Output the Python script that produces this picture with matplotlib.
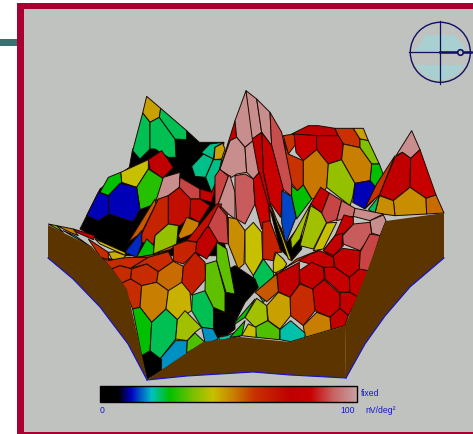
import numpy as np
import matplotlib
matplotlib.use("Agg")
import matplotlib.pyplot as plt
from matplotlib.colors import LinearSegmentedColormap
from matplotlib.patches import Polygon, Circle, Rectangle

plt.rcParams['font.family'] = ['Liberation Sans', 'DejaVu Sans']

# response scale, value (0-100) against colour
scale_values = [0, 7, 12, 16, 20, 27, 36, 44, 52, 60, 74, 82, 91, 100]
scale_colors = ["#000000", "#000000", "#0000c0", "#0060c8", "#00c0c0", "#00c000", "#78c000",
                "#c8c000", "#c88000", "#c83200", "#c00000", "#c80000", "#c86464", "#c8a0a0"]

# each patch: origin in pixels, then cell outlines in 3x units from that origin, then cell values
back_origin = (220, 90)
back_values = [60, 74, 60, 82, 74, 48, 60, 53, 37, 27, 39, 52, 12, 97, 74, 82, 50, 50, 54, 60, 24]
back_cells = [
    [(190, 140), (222, 135), (228, 165), (205, 195)],
    [(215, 135), (265, 110), (295, 110), (345, 118), (355, 140), (290, 140), (222, 135)],
    [(345, 118), (400, 118), (420, 150), (420, 176), (370, 165), (355, 140)],
    [(222, 135), (290, 140), (290, 182), (250, 215), (228, 190)],
    [(290, 140), (355, 140), (370, 165), (365, 212), (325, 225), (290, 182)],
    [(400, 118), (430, 118), (445, 155), (420, 150)],
    [(190, 150), (205, 195), (250, 215), (250, 288), (232, 305), (212, 280)],
    [(250, 215), (290, 182), (325, 225), (320, 295), (300, 325), (275, 330), (250, 288)],
    [(420, 150), (445, 155), (478, 225), (455, 225), (420, 176)],
    [(455, 225), (478, 225), (492, 262), (470, 298), (450, 275)],
    [(325, 225), (365, 212), (405, 283), (398, 325), (390, 350), (320, 295)],
    [(370, 165), (420, 176), (455, 225), (450, 275), (405, 283), (365, 212)],
    [(405, 283), (450, 275), (470, 298), (460, 335), (435, 360), (398, 340)],
    [(575, 125), (600, 182), (572, 208), (547, 190), (528, 200)],
    [(525, 205), (547, 190), (572, 208), (570, 295), (520, 335), (478, 318)],
    [(572, 208), (600, 182), (648, 318), (618, 328), (570, 295)],
    [(520, 335), (570, 295), (618, 328), (620, 375), (525, 380)],
    [(478, 320), (520, 335), (525, 380), (465, 372)],
    [(618, 328), (648, 318), (672, 372), (620, 375)],
    [(525, 200), (478, 318), (436, 355), (470, 285)],
    [(478, 320), (465, 372), (445, 362)],
]

left_origin = (40, 90)
left_values = [3, 48, 24, 24, 24, 22, 48, 22, 22,
               44, 74, 30, 27, 12, 12, 97, 88, 75,
               56, 64, 70, 72, 52, 14, 27, 39, 56]
left_cells = [
    [(268, 235), (278, 180), (440, 125), (478, 160), (552, 160), (530, 320), (560, 500), (255, 500), (120, 420), (180, 300)],
    [(320, 22), (362, 58), (358, 85), (330, 100), (308, 72)],
    [(308, 72), (330, 100), (330, 180), (300, 210), (278, 185)],
    [(330, 100), (358, 85), (405, 150), (408, 205), (385, 205), (345, 180), (330, 180)],
    [(362, 58), (440, 125), (440, 152), (405, 150), (358, 85)],
    [(485, 190), (510, 165), (550, 160), (525, 175), (520, 210), (490, 195)],
    [(525, 175), (548, 163), (555, 180), (545, 210), (522, 212)],
    [(455, 232), (490, 195), (520, 210), (497, 265), (465, 262)],
    [(520, 212), (545, 212), (530, 280), (515, 310), (497, 265)],
    [(242, 250), (325, 212), (325, 240), (290, 295), (245, 280)],
    [(325, 212), (365, 185), (400, 235), (368, 268), (330, 240)],
    [(325, 240), (368, 268), (365, 330), (345, 345), (300, 362), (290, 295)],
    [(205, 265), (242, 250), (245, 280), (205, 320), (180, 310)],
    [(175, 310), (205, 320), (207, 375), (175, 395), (140, 380)],
    [(205, 320), (240, 283), (290, 295), (300, 362), (278, 398), (207, 375)],
    [(348, 335), (370, 265), (420, 250), (418, 295), (385, 320)],
    [(420, 265), (480, 300), (480, 330), (450, 330), (418, 295)],
    [(480, 300), (515, 310), (535, 260), (515, 340), (480, 330)],
    [(265, 460), (345, 330), (348, 345), (305, 430)],
    [(305, 435), (355, 330), (385, 320), (385, 405), (345, 440), (340, 470), (305, 460)],
    [(385, 320), (418, 295), (452, 330), (450, 385), (420, 410), (385, 405)],
    [(452, 330), (480, 330), (510, 350), (478, 400), (450, 385)],
    [(415, 440), (440, 385), (478, 400), (470, 430), (420, 450)],
    [(255, 490), (305, 425), (305, 465), (290, 505)],
    [(290, 505), (320, 450), (342, 470), (340, 498)],
    [(340, 498), (345, 440), (385, 405), (415, 410), (410, 465), (370, 490)],
    [(340, 495), (400, 470), (440, 450), (390, 482)],
]

peak_origin = (220, 90)
peak_values = [74, 88, 97, 97, 97, 97, 97, 89, 82, 74, 97, 90, 82, 88, 50, 44, 65, 44, 24, 15, 27,
               3, 44, 40, 40, 44, 80, 88, 92, 97, 97, 90, 78, 76, 88]
peak_cells = [
    [(0, 240), (45, 95), (50, 145), (30, 155)],
    [(-15, 262), (0, 240), (5, 245), (25, 262), (-5, 345), (-15, 350)],
    [(50, 145), (45, 95), (78, 5), (90, 80), (105, 150), (75, 175)],
    [(0, 240), (30, 155), (50, 145), (75, 175), (80, 250), (50, 255), (35, 265), (5, 245)],
    [(75, 175), (105, 150), (118, 250), (100, 270), (80, 250)],
    [(78, 5), (110, 30), (125, 130), (97, 150)],
    [(110, 30), (150, 70), (155, 170), (125, 130)],
    [(150, 70), (185, 130), (215, 280), (215, 322), (188, 300), (155, 170)],
    [(125, 130), (155, 170), (190, 300), (182, 385), (150, 340), (130, 250)],
    [(97, 150), (125, 130), (130, 250), (150, 345), (150, 395), (125, 300)],
    [(-5, 345), (25, 262), (30, 260), (45, 310), (45, 390), (25, 375)],
    [(45, 260), (75, 255), (100, 270), (105, 345), (75, 405), (50, 390), (45, 310)],
    [(100, 270), (118, 250), (145, 345), (150, 395), (125, 420), (105, 345)],
    [(-5, 345), (22, 375), (25, 455), (-5, 465)],
    [(25, 385), (50, 390), (75, 425), (72, 525), (55, 540), (25, 465)],
    [(75, 425), (100, 400), (125, 430), (128, 510), (100, 560), (75, 520)],
    [(128, 400), (150, 395), (185, 490), (165, 490), (160, 515), (128, 510)],
    [(160, 520), (168, 490), (190, 510), (200, 525), (185, 550), (160, 550)],
    [(100, 560), (130, 510), (160, 550), (165, 590), (130, 640), (105, 600)],
    [(185, 305), (215, 322), (228, 385), (197, 465), (185, 400)],
    [(215, 290), (232, 305), (250, 288), (275, 330), (230, 390), (215, 322)],
    [(150, 360), (185, 420), (197, 465), (245, 400), (245, 480), (215, 515), (180, 480)],
    [(150, 345), (158, 360), (215, 515), (205, 510)],
    [(212, 450), (272, 345), (240, 450), (215, 480)],
    [(272, 350), (305, 370), (320, 400), (280, 480), (240, 470)],
    [(350, 400), (320, 402), (280, 485), (310, 480)],
    [(272, 345), (302, 295), (328, 312), (305, 372)],
    [(328, 312), (365, 335), (350, 392), (320, 402), (305, 372)],
    [(365, 335), (405, 358), (400, 382), (350, 395)],
    [(405, 358), (490, 375), (450, 395), (400, 382)],
    [(450, 395), (490, 378), (498, 395), (480, 440), (455, 432)],
    [(400, 405), (450, 400), (455, 435), (420, 485), (370, 465), (368, 440)],
    [(372, 378), (400, 385), (400, 405), (365, 440), (345, 440)],
    [(345, 440), (365, 445), (370, 470), (335, 505), (310, 485)],
    [(420, 490), (450, 435), (480, 440), (440, 570), (418, 540)],
]

rim_origin = (40, 90)
rim_values = [3, 62, 36, 52, 74, 20, 44, 46, 64, 74, 70, 88]
rim_cells = [
    [(510, 565), (550, 550), (585, 530), (645, 570), (655, 595), (615, 640), (585, 700), (540, 745), (510, 745)],
    [(145, 450), (205, 490), (205, 510), (240, 515), (330, 498), (385, 490), (325, 510), (185, 510)],
    [(25, 405), (50, 410), (70, 430)],
    [(50, 410), (100, 420), (115, 440), (90, 430)],
    [(100, 420), (165, 440), (160, 452), (110, 430)],
    [(70, 425), (105, 440), (155, 475)],
    [(165, 450), (255, 490), (258, 500), (180, 465)],
    [(205, 490), (225, 488), (258, 500), (240, 515), (215, 510)],
    [(400, 470), (440, 455), (470, 460), (467, 490), (430, 525), (400, 515)],
    [(470, 460), (500, 415), (530, 418), (532, 460), (500, 510), (467, 490)],
    [(440, 455), (530, 345), (545, 345), (525, 400), (500, 415), (470, 458)],
    [(505, 410), (535, 350), (560, 380), (565, 465), (535, 460)],
]

near_left_origin = (40, 230)
near_left_values = [62, 62, 62, 62, 54, 62, 66, 52, 46, 24, 34, 34, 27, 24, 40, 18, 33, 18, 3, 3, 21]
near_left_cells = [
    [(185, 85), (205, 95), (240, 88), (270, 85), (325, 85), (272, 118), (240, 110), (215, 120)],
    [(325, 85), (385, 68), (400, 97), (355, 128), (320, 105), (272, 118)],
    [(215, 120), (240, 110), (275, 120), (272, 150), (245, 162)],
    [(275, 120), (320, 105), (355, 128), (350, 160), (305, 170), (272, 150)],
    [(355, 128), (400, 97), (430, 112), (425, 170), (385, 185), (350, 160)],
    [(245, 162), (272, 150), (305, 170), (300, 235), (278, 240)],
    [(430, 112), (465, 70), (495, 100), (497, 150), (455, 198), (425, 170)],
    [(305, 170), (350, 160), (385, 185), (378, 240), (335, 280), (300, 235)],
    [(385, 185), (425, 160), (450, 190), (455, 245), (412, 272), (378, 240)],
    [(457, 198), (495, 185), (520, 235), (522, 300), (485, 295), (455, 245)],
    [(497, 105), (530, 95), (555, 190), (555, 250), (520, 235), (495, 185)],
    [(530, 40), (560, 60), (585, 195), (558, 190), (530, 95)],
    [(278, 240), (300, 235), (335, 280), (330, 370), (305, 380)],
    [(335, 280), (378, 240), (412, 272), (407, 330), (360, 390), (330, 370)],
    [(412, 272), (435, 245), (485, 295), (465, 310), (442, 335), (407, 330)],
    [(365, 425), (360, 390), (407, 335), (442, 335), (440, 375)],
    [(442, 335), (465, 312), (495, 340), (440, 372)],
    [(485, 295), (520, 300), (535, 330), (510, 340), (495, 340)],
    [(305, 380), (330, 365), (365, 392), (363, 425), (322, 450)],
    [(522, 250), (555, 250), (585, 260), (585, 300), (560, 320), (530, 320), (520, 290)],
    [(535, 325), (560, 320), (600, 305), (600, 322), (540, 335)],
]

near_right_origin = (220, 210)
near_right_values = [58, 76, 76, 80, 76, 74, 80, 76, 78, 76, 62, 76, 52, 48, 56, 40, 33, 44, 21, 27, 27]
near_right_cells = [
    [(155, 210), (230, 150), (300, 122), (235, 155), (170, 190)],
    [(310, 125), (345, 80), (368, 72), (365, 115), (340, 140)],
    [(340, 140), (368, 118), (420, 125), (418, 180), (388, 205), (345, 175)],
    [(235, 155), (270, 135), (300, 125), (340, 145), (342, 175), (305, 175)],
    [(238, 185), (275, 160), (310, 175), (313, 210), (278, 240), (240, 222)],
    [(172, 195), (238, 160), (238, 225), (210, 265), (175, 248)],
    [(313, 175), (345, 175), (388, 205), (390, 250), (360, 250), (315, 210)],
    [(388, 205), (418, 180), (445, 185), (415, 265), (390, 250)],
    [(278, 240), (313, 212), (360, 255), (360, 298), (330, 325), (285, 305)],
    [(360, 250), (390, 250), (415, 265), (385, 320), (360, 298)],
    [(210, 265), (240, 225), (278, 240), (285, 305), (250, 350), (212, 320)],
    [(330, 325), (360, 298), (385, 320), (375, 350), (333, 362)],
    [(250, 350), (290, 310), (330, 325), (333, 362), (255, 385)],
    [(140, 290), (175, 250), (210, 265), (212, 320), (180, 360), (145, 335)],
    [(105, 250), (170, 195), (175, 248), (140, 278)],
    [(75, 325), (110, 268), (140, 290), (143, 335), (105, 355)],
    [(105, 355), (143, 335), (180, 362), (178, 392), (110, 385)],
    [(65, 380), (85, 345), (108, 355), (108, 385)],
    [(180, 362), (212, 335), (255, 372), (255, 385), (212, 398), (180, 392)],
    [(30, 385), (75, 335), (65, 380)],
    [(45, 340), (105, 270), (75, 325), (45, 345)],
]

# base walls in pixels
left_wall_x = [48, 92, 112, 127, 142, 147, 128, 100, 73, 48]
left_wall_y = [226, 248, 270, 290, 357, 381, 345, 308, 280, 259]
front_wall_x = [147, 203, 240, 290, 345, 346, 290, 253, 187, 147]
front_wall_y = [381, 343, 338, 343, 327, 379, 376, 373, 377, 381]
right_wall_x = [345, 368, 380, 386, 444, 444, 410, 385, 365, 346]
right_wall_y = [327, 270, 237, 222, 214, 259, 288, 317, 345, 379]

scale_ticks = ["0", "100"]
scale_mode = "fixed"
scale_unit = "nV/deg\u00b2"

# orientation dial, top and bottom shaded areas
dial_top_x = [426, 436, 439, 454, 464, 465, 442, 415]
dial_top_y = [36, 36, 36, 36, 48, 52, 52, 52]
dial_bottom_x = [415, 465, 455, 440, 425]
dial_bottom_y = [66, 66, 77, 82, 77]

response_cmap = LinearSegmentedColormap.from_list(
    "response", [(v / 100, c) for v, c in zip(scale_values, scale_colors)])


def draw_patch(ax, origin, cells, values):
    for cell, value in zip(cells, values):
        pts = [(origin[0] + x / 3, origin[1] + y / 3) for x, y in cell]
        ax.add_patch(Polygon(pts, closed=True, facecolor=response_cmap(value / 100),
                             edgecolor="#1a0a00", linewidth=0.7, joinstyle="round"))


def draw_wall(ax, xs, ys):
    ax.fill(xs, ys, color="#5c3400", linewidth=0)


def main():
    fig = plt.figure(figsize=(4.73, 4.35), dpi=100, facecolor="white")
    ax = fig.add_axes([0, 0, 1, 1])
    ax.set_xlim(0, 473)
    ax.set_ylim(435, 0)
    ax.axis("off")

    # window frame
    ax.add_patch(Rectangle((17, 4), 456, 431, facecolor="#a80030", linewidth=0))
    ax.add_patch(Rectangle((23.5, 10), 450, 422.5, facecolor="#c0c2c0", linewidth=0))
    ax.add_patch(Rectangle((0, 40), 17, 7, facecolor="#3a7070", linewidth=0))

    # surface, back to front
    draw_patch(ax, back_origin, back_cells, back_values)
    draw_patch(ax, left_origin, left_cells, left_values)
    draw_patch(ax, peak_origin, peak_cells, peak_values)
    draw_patch(ax, rim_origin, rim_cells, rim_values)
    draw_patch(ax, near_left_origin, near_left_cells, near_left_values)
    draw_patch(ax, near_right_origin, near_right_cells, near_right_values)

    draw_wall(ax, left_wall_x, left_wall_y)
    draw_wall(ax, front_wall_x, front_wall_y)
    draw_wall(ax, right_wall_x, right_wall_y)
    ax.plot(left_wall_x[5:], left_wall_y[5:], color="#1010d0", linewidth=0.8)
    ax.plot(front_wall_x[5:], front_wall_y[5:], color="#1010d0", linewidth=0.8)
    ax.plot(right_wall_x[5:], right_wall_y[5:], color="#1010d0", linewidth=0.8)

    # legend bar
    gradient = np.linspace(0, 1, 256).reshape(1, -1)
    ax.imshow(gradient, cmap=response_cmap, extent=(100, 356.5, 403, 387), aspect="auto", zorder=3)
    ax.add_patch(Rectangle((100, 387), 256.5, 16, fill=False, edgecolor="black", linewidth=1, zorder=4))
    ax.set_xlim(0, 473)
    ax.set_ylim(435, 0)
    ax.text(361, 394, scale_mode, color="#1818c0", fontsize=6.2, va="center")
    ax.text(100, 411, scale_ticks[0], color="#1818c0", fontsize=6.2, va="center")
    ax.text(340, 411, scale_ticks[1], color="#1818c0", fontsize=6.2, va="center")
    ax.text(365, 411, scale_unit, color="#1818c0", fontsize=6.2, va="center")

    # orientation dial
    ax.fill(dial_top_x, dial_top_y, color="#a8d0d0", linewidth=0)
    ax.fill(dial_bottom_x, dial_bottom_y, color="#a8d0d0", linewidth=0)
    navy = "#101060"
    ax.add_patch(Circle((440.3, 53.3), 30, fill=False, edgecolor=navy, linewidth=1))
    ax.plot([409, 472], [53.3, 53.3], color=navy, linewidth=0.9)
    ax.plot([440.3, 440.3], [22, 85], color=navy, linewidth=0.9)
    ax.plot([440.3, 471], [53, 53], color=navy, linewidth=1.8)
    ax.plot([460], [53], marker="o", markersize=4, markerfacecolor="#c0c2c0",
            markeredgecolor=navy, markeredgewidth=1.2)

    fig.savefig("out.png", dpi=100)


if __name__ == '__main__':
    main()
